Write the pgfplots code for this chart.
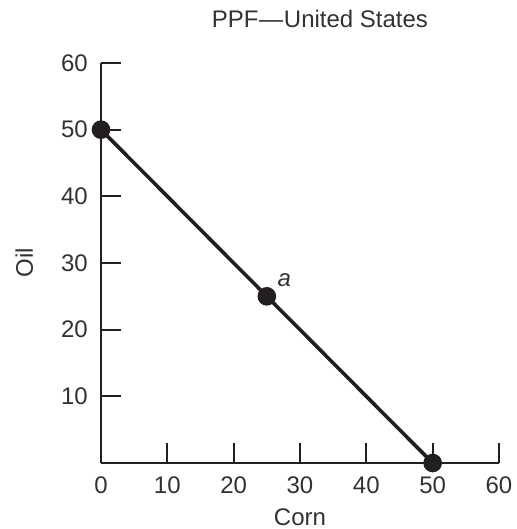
\documentclass[border=0pt]{standalone}
\usepackage{pgfplots}
\pgfplotsset{compat=1.18}
\usepackage{fontspec}
\setmainfont{Liberation Sans}
\definecolor{ink}{HTML}{231F20}
\newcommand{\fs}{\fontsize{24bp}{28bp}\selectfont}
\begin{document}
\begin{tikzpicture}
\begin{axis}[
  anchor=south west, at={(0,0)},
  scale only axis,
  width=398bp, height=400bp,
  xmin=0, xmax=60, ymin=0, ymax=60,
  axis lines=left,
  axis line style={ink, line width=1.7bp, -},
  xtick={0,10,20,30,40,50,60},
  ytick={10,20,30,40,50,60},
  tick style={ink, line width=1.7bp},
  tick align=inside,
  major tick length=20bp,
  /pgf/number format/assume math mode=true,
  tick label style={font=\fs, text=ink!92, inner sep=0pt},
  xticklabel style={anchor=north, yshift=-14bp},
  yticklabel style={anchor=east, xshift=-13bp},
  label style={font=\fs, text=ink!92, inner sep=0pt},
  title style={font=\fs, text=ink!92, inner sep=0pt, anchor=base, at={(axis description cs:0.55,1.075)}},
  title={PPF\kern0.03em---\kern0.03em United States},
  xlabel={Corn},
  ylabel={Oil},
  xlabel style={anchor=base, at={(axis description cs:0.5,-0.155)}},
  ylabel style={anchor=base, at={(axis description cs:-0.171,0.5)}},
  clip=false,
]
\addplot[ink, line width=3.6bp, mark=*, mark size=7.5bp, mark options={fill=ink, draw=ink}]
  coordinates {(0,50) (25,25) (50,0)};
\node[anchor=base west, font=\fs\itshape, text=ink!92, inner sep=0pt] at (axis cs:26.6,26.5) {a};
\end{axis}
\pgfresetboundingbox
\path[use as bounding box] (-101bp,-66bp) rectangle (416bp,463bp);
\end{tikzpicture}
\end{document}
